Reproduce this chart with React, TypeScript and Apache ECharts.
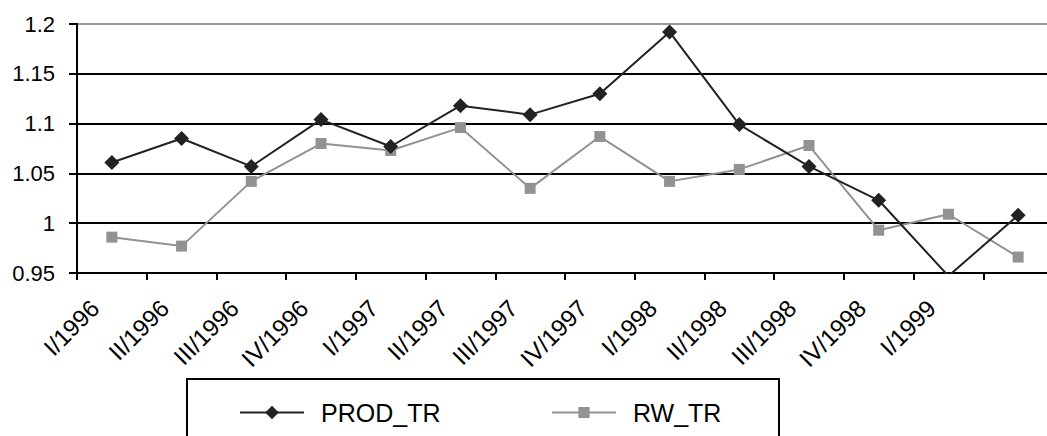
import React, { useEffect, useRef } from "react";
import * as echarts from "echarts";

const categories = [
  "I/1996", "II/1996", "III/1996", "IV/1996",
  "I/1997", "II/1997", "III/1997", "IV/1997",
  "I/1998", "II/1998", "III/1998", "IV/1998",
  "I/1999", "",
];
const prodTr = [1.061, 1.085, 1.057, 1.104, 1.077, 1.118, 1.109, 1.13, 1.192, 1.099, 1.057, 1.023, 0.947, 1.008];
const rwTr = [0.986, 0.977, 1.042, 1.08, 1.073, 1.096, 1.035, 1.087, 1.042, 1.054, 1.078, 0.993, 1.009, 0.966];
const yMin = 0.95;
const yMax = 1.2;
const yStep = 0.05;

const FONT = "'Liberation Sans', Arial, sans-serif";

export default function App() {
  const ref = useRef<HTMLDivElement>(null);
  useEffect(() => {
    if (!ref.current) return;
    const chart = echarts.init(ref.current, undefined, { renderer: "svg" });
    chart.setOption({
      animation: false,
      backgroundColor: "#ffffff",
      textStyle: { fontFamily: FONT },
      grid: { left: 77, right: 7, top: 24, bottom: 163, containLabel: false },
      legend: [
        {
          data: ["PROD_TR"],
          left: 234,
          top: 395,
          itemWidth: 64,
          itemHeight: 17,
          textStyle: { fontSize: 25, color: "#000", fontFamily: FONT, padding: [0, 0, 0, 12] },
        },
        {
          data: ["RW_TR"],
          left: 546,
          top: 395,
          itemWidth: 64,
          itemHeight: 14,
          textStyle: { fontSize: 25, color: "#000", fontFamily: FONT, padding: [0, 0, 0, 12] },
        },
      ],
      graphic: [
        {
          type: "rect",
          shape: { x: 187, y: 379, width: 592, height: 90 },
          style: { fill: "none", stroke: "#000", lineWidth: 2 },
          silent: true,
        },
      ],
      xAxis: {
        type: "category",
        data: categories,
        boundaryGap: true,
        axisLine: { lineStyle: { color: "#000", width: 2 } },
        axisTick: { show: true, length: 7, interval: 0, lineStyle: { color: "#000", width: 2 } },
        axisLabel: {
          interval: 0,
          rotate: 45,
          fontSize: 24,
          color: "#000",
          fontFamily: FONT,
          margin: 14,
          padding: [0, 24, 0, 0],
        },
      },
      yAxis: {
        type: "value",
        min: yMin,
        max: yMax,
        interval: yStep,
        axisLine: { show: true, lineStyle: { color: "#000", width: 2 } },
        axisTick: { show: true, length: 8, lineStyle: { color: "#000", width: 2 } },
        axisLabel: { fontSize: 22, color: "#000", fontFamily: FONT, margin: 22 },
        splitLine: {
          show: true,
          lineStyle: { color: ["#000", "#000", "#000", "#000", "#000", "#999"], width: 2 },
        },
      },
      series: [
        {
          name: "PROD_TR",
          type: "line",
          data: prodTr,
          symbol: "diamond",
          symbolSize: 15,
          clip: true,
          itemStyle: { color: "#222" },
          lineStyle: { color: "#222", width: 2 },
          z: 3,
        },
        {
          name: "RW_TR",
          type: "line",
          data: rwTr,
          symbol: "rect",
          symbolSize: 11,
          clip: true,
          itemStyle: { color: "#929292" },
          lineStyle: { color: "#929292", width: 2 },
          z: 2,
        },
      ],
    });
    return () => chart.dispose();
  }, []);
  return (
    <div style={{ position: "fixed", left: 0, top: 0, width: 1047, height: 436, overflow: "hidden", background: "#fff" }}>
      <div ref={ref} style={{ width: 1060, height: 436 }} />
    </div>
  );
}
